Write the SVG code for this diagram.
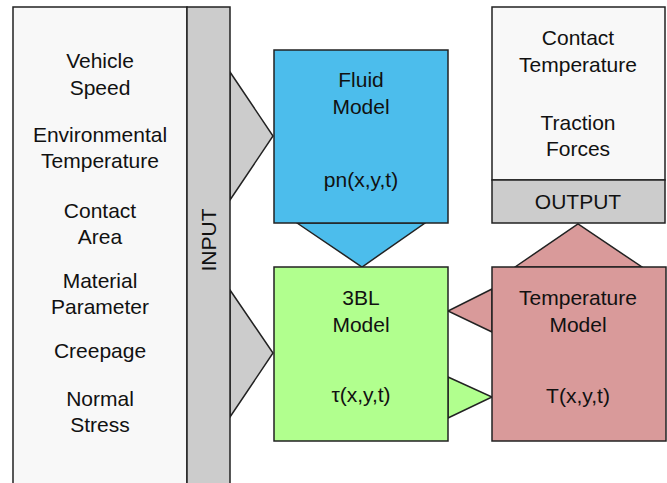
<svg xmlns="http://www.w3.org/2000/svg" width="667" height="483" viewBox="0 0 667 483">
<style>
.t{font-family:"Liberation Sans",Arial,sans-serif;font-size:21px;fill:#111;text-anchor:middle}
.b{stroke:#222;stroke-width:1.5;stroke-linejoin:miter}
.light{fill:#f8f8f8}
.gray{fill:#cccccc}
.blue{fill:#4cbdec}
.green{fill:#b1ff8e}
.pink{fill:#d99a9a}
</style>
<rect width="667" height="483" fill="#ffffff"/>
<g id="connectors">
<polygon class="b gray" points="230,72 273,136 230,200"/>
<polygon class="b gray" points="230,290 273,353 230,417"/>
<polygon class="b blue" points="297,223 362,267 425,223"/>
<polygon class="b pink" points="492,289 448,311 492,332"/>
<polygon class="b green" points="448,377 492,397 448,418"/>
<polygon class="b pink" points="515,267 578,224 642,267"/>
</g>
<g id="input">
<rect class="b light" x="13" y="7" width="174" height="490"/>
<rect class="b gray" x="187" y="7" width="43" height="490"/>
<text class="t" x="100" y="68">Vehicle</text>
<text class="t" x="100" y="95">Speed</text>
<text class="t" x="100" y="142">Environmental</text>
<text class="t" x="100" y="168">Temperature</text>
<text class="t" x="100" y="218">Contact</text>
<text class="t" x="100" y="244">Area</text>
<text class="t" x="100" y="288">Material</text>
<text class="t" x="100" y="314">Parameter</text>
<text class="t" x="100" y="358">Creepage</text>
<text class="t" x="100" y="406">Normal</text>
<text class="t" x="100" y="432">Stress</text>
<text class="t" transform="translate(216,240) rotate(-90)">INPUT</text>
</g>
<g id="fluid">
<rect class="b blue" x="274" y="50" width="174" height="173"/>
<text class="t" x="361" y="87">Fluid</text>
<text class="t" x="361" y="114">Model</text>
<text class="t" x="361" y="187">pn(x,y,t)</text>
</g>
<g id="threebl">
<rect class="b green" x="274" y="267" width="174" height="174"/>
<text class="t" x="361" y="305">3BL</text>
<text class="t" x="361" y="332">Model</text>
<text class="t" x="361" y="402">τ(x,y,t)</text>
</g>
<g id="temperature">
<rect class="b pink" x="492" y="267" width="174" height="174"/>
<text class="t" x="578" y="305">Temperature</text>
<text class="t" x="578" y="332">Model</text>
<text class="t" x="578" y="403">T(x,y,t)</text>
</g>
<g id="output">
<rect class="b light" x="492" y="7" width="173" height="173"/>
<rect class="b gray" x="492" y="180" width="173" height="43"/>
<text class="t" x="578" y="45">Contact</text>
<text class="t" x="578" y="72">Temperature</text>
<text class="t" x="578" y="130">Traction</text>
<text class="t" x="578" y="156">Forces</text>
<text class="t" x="578" y="209">OUTPUT</text>
</g>
</svg>
